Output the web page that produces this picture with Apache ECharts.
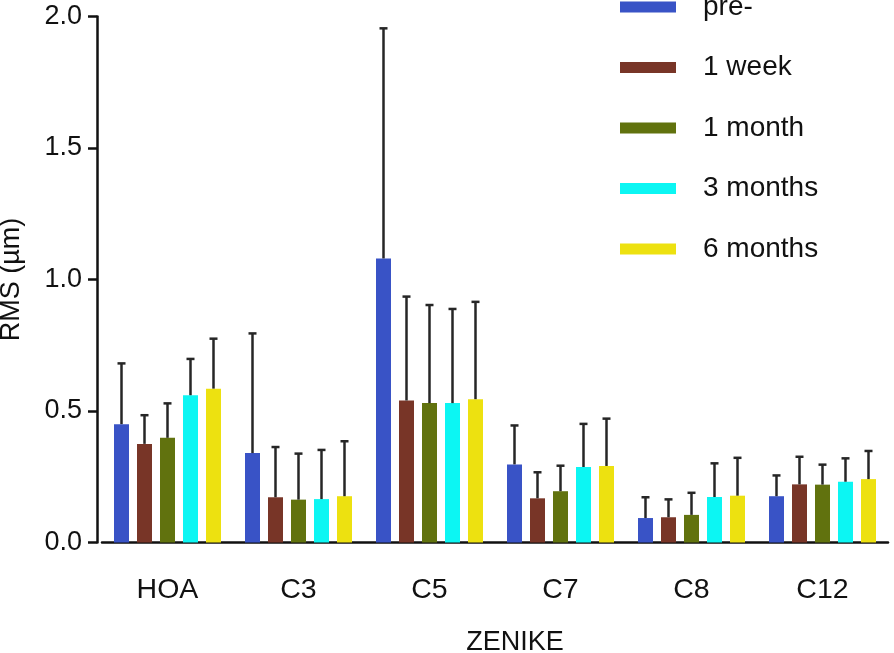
<!DOCTYPE html>
<html>
<head>
<meta charset="utf-8">
<script src="https://cdn.jsdelivr.net/npm/echarts@6/dist/echarts.min.js"></script>
<style>html,body{margin:0;padding:0;background:#fff;}#c{width:894px;height:653px;}</style>
</head>
<body>
<div id="c"></div>
<script>
const categories = ['HOA', 'C3', 'C5', 'C7', 'C8', 'C12'];
const seriesNames = ['pre-', '1 week', '1 month', '3 months', '6 months'];
const preMean = [0.450, 0.340, 1.080, 0.297, 0.093, 0.176];
const preSD = [0.231, 0.455, 0.875, 0.148, 0.079, 0.079];
const weekMean = [0.375, 0.172, 0.540, 0.168, 0.096, 0.221];
const weekSD = [0.109, 0.191, 0.395, 0.099, 0.068, 0.105];
const monthMean = [0.398, 0.163, 0.530, 0.195, 0.105, 0.220];
const monthSD = [0.131, 0.175, 0.373, 0.097, 0.084, 0.076];
const m3Mean = [0.560, 0.165, 0.530, 0.287, 0.173, 0.231];
const m3SD = [0.138, 0.187, 0.358, 0.164, 0.128, 0.089];
const m6Mean = [0.585, 0.176, 0.545, 0.291, 0.178, 0.241];
const m6SD = [0.190, 0.209, 0.370, 0.180, 0.144, 0.107];
const yTicks = [0, 0.5, 1.0, 1.5, 2.0];

const means = [preMean, weekMean, monthMean, m3Mean, m6Mean];
const sds = [preSD, weekSD, monthSD, m3SD, m6SD];
const colors = ['#3953C6', '#783527', '#61720E', '#0CF6F3', '#EDE110'];
const FONT = "'Liberation Sans', Arial, Helvetica, sans-serif";
const BAR_W = 15, STEP = 23;

const series = [];
means.forEach((m, i) => {
  series.push({
    name: seriesNames[i], type: 'bar', data: m, barWidth: BAR_W, barGap: ((STEP - BAR_W) / BAR_W * 100) + '%',
    itemStyle: { color: colors[i] }, z: 2
  });
});
means.forEach((m, i) => {
  series.push({
    type: 'custom', z: 5, silent: true,
    data: m.map((v, k) => [k, v, v + sds[i][k]]),
    renderItem: function (params, api) {
      const p0 = api.coord([api.value(0), api.value(1)]);
      const p1 = api.coord([api.value(0), api.value(2)]);
      const x = p0[0] + (i - 2) * STEP;
      const style = { stroke: '#262626', lineWidth: 2.5 };
      return {
        type: 'group', children: [
          { type: 'line', shape: { x1: x, y1: p0[1], x2: x, y2: p1[1] }, style: style },
          { type: 'line', shape: { x1: x - 4, y1: p1[1], x2: x + 4, y2: p1[1] }, style: style }
        ]
      };
    }
  });
});

const chart = echarts.init(document.getElementById('c'), null, { renderer: 'canvas' });
chart.setOption({
  animation: false,
  backgroundColor: '#ffffff',
  textStyle: { fontFamily: FONT },
  grid: { left: 102, top: 16.5, width: 786, bottom: 110.5, containLabel: false, outerBoundsMode: 'none' },
  legend: {
    orient: 'vertical', left: 615, top: -13,
    data: seriesNames,
    itemWidth: 56, itemHeight: 11, itemGap: 30.5,
    icon: 'rect',
    textStyle: { fontSize: 28, color: '#111', fontFamily: FONT, lineHeight: 30, padding: [0, 0, 0, 22] }
  },
  xAxis: {
    type: 'category', data: categories,
    name: 'ZENIKE', nameLocation: 'middle', nameGap: 87,
    nameTextStyle: { fontSize: 27, color: '#111', fontFamily: FONT, padding: [0, 0, 0, 40] },
    axisLine: { lineStyle: { color: '#111', width: 2.5 } },
    axisTick: { alignWithLabel: true, length: 11, lineStyle: { color: '#111', width: 2.5 } },
    axisLabel: { fontSize: 28.5, color: '#111', margin: 33, fontFamily: FONT }
  },
  yAxis: {
    type: 'value', min: 0, max: 2.0, interval: 0.5, offset: 5,
    name: 'RMS (µm)', nameLocation: 'middle', nameGap: 72, nameRotate: 90,
    nameTextStyle: { fontSize: 27, color: '#111', fontFamily: FONT },
    splitLine: { show: false },
    axisLine: { show: true, lineStyle: { color: '#111', width: 2.5 } },
    axisTick: { show: true, length: 9, lineStyle: { color: '#111', width: 2.5 } },
    axisLabel: {
      fontSize: 27, color: '#111', margin: 15, fontFamily: FONT,
      formatter: v => yTicks.includes(v) ? v.toFixed(1) : ''
    }
  },
  series: series
});
</script>
</body>
</html>
